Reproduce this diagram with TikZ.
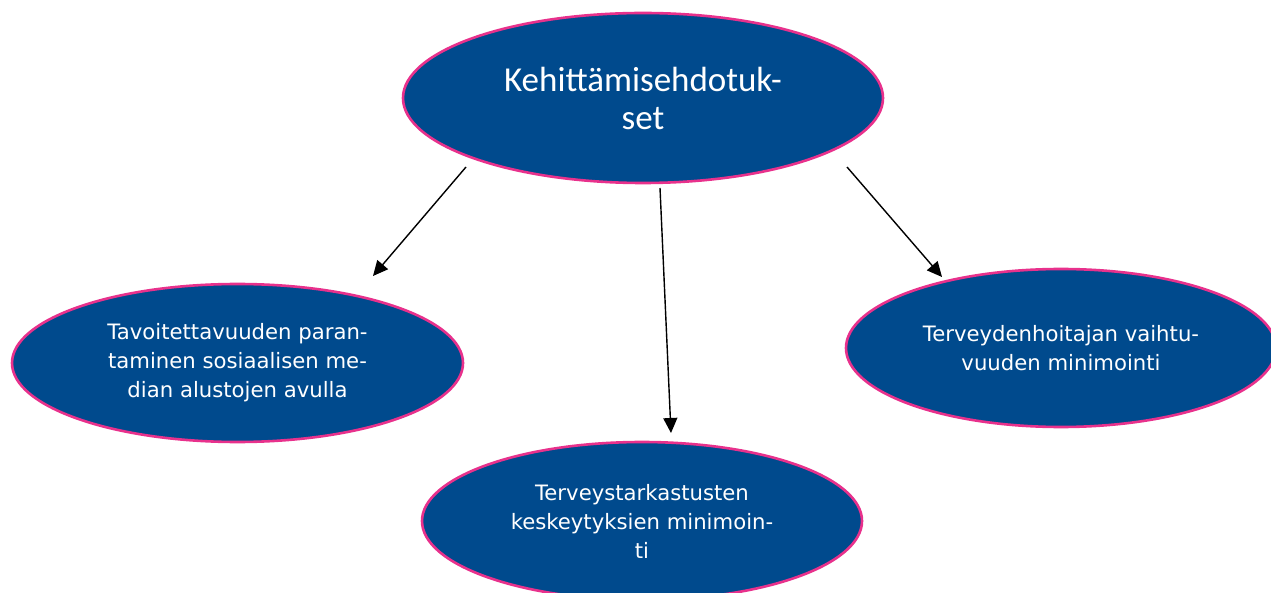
\documentclass[tikz,border=0pt]{standalone}
\usepackage{fontspec}
\setmainfont{DejaVu Sans}
\newfontfamily\topfont{Carlito}
\usetikzlibrary{shapes.geometric,arrows.meta}
\definecolor{ellfill}{RGB}{0,74,141}
\definecolor{ellline}{RGB}{232,49,140}
\tikzset{
  bubble/.style={ellipse, draw=ellline, line width=2.6pt, fill=ellfill, text=white,
    align=center, inner sep=0pt},
  small/.style={font=\fontsize{21.2}{29}\selectfont},
  conn/.style={line width=1.4pt, -{Triangle[length=15pt,width=14pt]}}
}
\begin{document}
\begin{tikzpicture}[x=1pt,y=-1pt]
\useasboundingbox (0,0) rectangle (1271,593);
\node[bubble, minimum width=480pt, minimum height=170pt,
  font=\topfont\fontsize{35}{38}\selectfont] (top) at (643,98)
  {Kehittämisehdotuk-\\set};
\node[bubble, small, minimum width=451pt, minimum height=158pt] (left) at (237.5,363)
  {Tavoitettavuuden paran-\\taminen sosiaalisen me-\\dian alustojen avulla};
\node[bubble, small, minimum width=430pt, minimum height=158pt] (right) at (1061,348)
  {Terveydenhoitajan vaihtu-\\vuuden minimointi};
\node[bubble, small, minimum width=440pt, minimum height=158pt] (bottom) at (642,521)
  {Terveystarkastusten\\keskeytyksien minimoin-\\ti};
\coordinate (a1s) at (466,167);
\coordinate (a1e) at (373,276);
\coordinate (a2s) at (660,188);
\coordinate (a2e) at (671,433);
\coordinate (a3s) at (847,167);
\coordinate (a3e) at (942,277);
\draw[conn] (a1s) -- (a1e);
\draw[conn] (a2s) -- (a2e);
\draw[conn] (a3s) -- (a3e);
\end{tikzpicture}
\end{document}
